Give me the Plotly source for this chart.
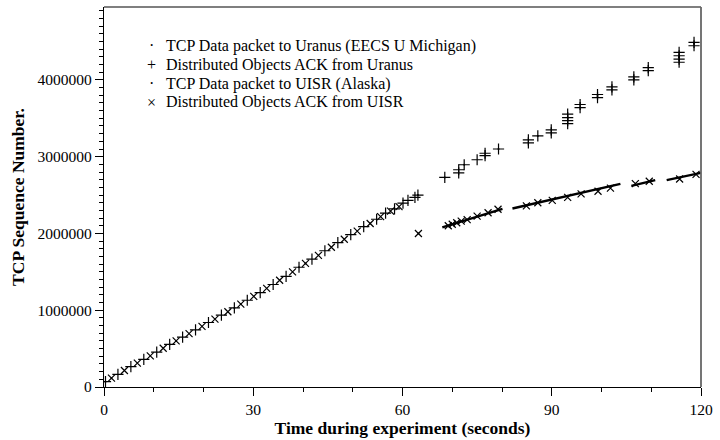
import plotly.graph_objects as go

# ---- ACKs from Uranus (EECS U Michigan) ----
uranus_ack_t = [0.3, 2.8, 5.4, 8.0, 10.6, 13.2, 15.8, 18.4, 21.0, 23.6, 26.2, 28.8,
                31.4, 34.0, 36.6, 39.2, 41.8, 44.4, 47.0, 49.6, 52.2, 54.8, 56.6,
                58.4, 60.1, 61.1, 62.5, 63.1,
                68.5, 71.3, 71.3, 72.4, 75.0, 76.6, 76.6, 79.3,
                85.3, 85.3, 87.2, 89.9, 89.9, 93.2, 93.2, 93.2, 93.2,
                95.7, 95.7, 99.2, 99.2, 102.1, 102.1, 106.5, 106.5,
                109.4, 109.4, 115.6, 115.6, 115.6, 115.6, 118.6, 118.6]
uranus_ack_seq = [70000, 165000, 265000, 360000, 455000, 555000, 650000, 745000,
                  840000, 935000, 1030000, 1130000, 1230000, 1335000, 1440000,
                  1560000, 1665000, 1775000, 1880000, 1985000, 2090000, 2185000,
                  2265000, 2320000, 2395000, 2430000, 2470000, 2500000,
                  2730000, 2790000, 2830000, 2895000, 2960000, 3015000, 3045000, 3100000,
                  3180000, 3220000, 3270000, 3310000, 3350000, 3430000, 3470000,
                  3510000, 3555000, 3640000, 3680000, 3770000, 3810000, 3870000,
                  3910000, 4000000, 4040000, 4120000, 4160000, 4230000, 4270000,
                  4315000, 4360000, 4445000, 4490000]

# ---- ACKs from UISR (Alaska) ----
uisr_ack_t = [1.5, 4.1, 6.7, 9.3, 11.9, 14.5, 17.1, 19.7, 22.3, 24.9, 27.5, 30.1,
              32.7, 35.3, 37.9, 40.5, 43.1, 45.7, 48.3, 50.9, 53.5, 55.6, 57.6,
              59.3, 63.2,
              69.2, 70.0, 70.9, 71.8, 73.0, 75.0, 77.2, 79.2,
              84.9, 87.2, 90.1, 93.2, 95.9, 99.3, 101.8,
              106.8, 109.6, 115.7, 119.0]
uisr_ack_seq = [115000, 215000, 310000, 405000, 505000, 600000, 695000, 790000,
                885000, 980000, 1080000, 1180000, 1285000, 1390000, 1500000,
                1610000, 1715000, 1820000, 1925000, 2030000, 2130000, 2220000,
                2290000, 2350000, 2000000,
                2100000, 2120000, 2140000, 2160000, 2180000, 2225000, 2270000, 2315000,
                2360000, 2400000, 2430000, 2470000, 2515000, 2550000, 2590000,
                2650000, 2680000, 2710000, 2770000]

# ---- Data packets to Uranus ----
uranus_data_t = [0.3, 13.2, 26.2, 39.2, 52.2, 63.1, 68.5, 72.4, 79.3, 87.2,
                 93.2, 99.2, 106.5, 115.6, 118.6]
uranus_data_seq = [70000, 555000, 1030000, 1560000, 2090000, 2500000, 2730000,
                   2895000, 3100000, 3270000, 3510000, 3790000, 4020000,
                   4300000, 4470000]

# ---- Data packets to UISR ----
# isolated packets during the shared phase
uisr_pkt_t = [1.5, 14.5, 27.5, 40.5, 53.5, 63.2]
uisr_pkt_seq = [115000, 600000, 1080000, 1610000, 2130000, 2000000]
# dense bursts afterwards: start/end of each run, None splits runs
uisr_burst_t = [68.0, 80.1, None, 82.1, 103.8, None,
                106.0, 110.8, None, 113.1, 120.0]
uisr_burst_seq = [2080000, 2320000, None, 2325000, 2645000, None,
                  2620000, 2695000, None, 2695000, 2790000]

x_ticks = [0, 30, 60, 90, 120]
y_ticks = [0, 1000000, 2000000, 3000000, 4000000]

legend_glyphs = ["·", "+", "·", "×"]
legend_labels = ["TCP Data packet to Uranus (EECS U Michigan)",
                 "Distributed Objects ACK from Uranus",
                 "TCP Data packet to UISR (Alaska)",
                 "Distributed Objects ACK from UISR"]

FONT = "Liberation Serif"
INK = "black"

fig = go.Figure()

# bursts of data packets to UISR are packed so tight they read as a thick run
fig.add_trace(go.Scatter(
    x=uisr_burst_t, y=uisr_burst_seq, mode="lines",
    line=dict(color=INK, width=2.4), hoverinfo="skip",
    name=legend_labels[2]))

fig.add_trace(go.Scatter(
    x=uisr_pkt_t, y=uisr_pkt_seq, mode="markers", name=legend_labels[2],
    marker=dict(symbol="circle", size=2, color=INK, line=dict(width=0))))

fig.add_trace(go.Scatter(
    x=uranus_data_t, y=uranus_data_seq, mode="markers", name=legend_labels[0],
    marker=dict(symbol="circle", size=2, color=INK, line=dict(width=0))))

fig.add_trace(go.Scatter(
    x=uranus_ack_t, y=uranus_ack_seq, mode="markers", name=legend_labels[1],
    marker=dict(symbol="cross-thin", size=8, color=INK,
                line=dict(color=INK, width=1.2))))

fig.add_trace(go.Scatter(
    x=uisr_ack_t, y=uisr_ack_seq, mode="markers", name=legend_labels[3],
    marker=dict(symbol="x-thin", size=7, color=INK,
                line=dict(color=INK, width=1.2))))

# key: glyph plus label per row, top-left inside the frame
row_y = [0.8976, 0.8478, 0.7979, 0.7493]
for glyph, label, yy in zip(legend_glyphs, legend_labels, row_y):
    fig.add_annotation(xref="paper", yref="paper", x=0.0795, y=yy,
                       text=glyph, showarrow=False, xanchor="center", yanchor="middle",
                       font=dict(family=FONT, size=16, color=INK))
    fig.add_annotation(xref="paper", yref="paper", x=0.101, y=yy,
                       text=label, showarrow=False, xanchor="left", yanchor="middle",
                       font=dict(family=FONT, size=16, color=INK))

# top and right frame edges
fig.add_shape(type="line", xref="paper", yref="paper", x0=0, x1=1, y0=1, y1=1,
              line=dict(color=INK, width=1.2))
fig.add_shape(type="line", xref="paper", yref="paper", x0=1, x1=1, y0=0, y1=1,
              line=dict(color="#666666", width=1.8))

fig.update_layout(
    width=720, height=440,
    margin=dict(l=104, r=12, t=7, b=52),
    paper_bgcolor="white", plot_bgcolor="white",
    font=dict(family=FONT, size=15, color=INK),
    showlegend=False,
)

fig.update_xaxes(
    range=[0, 120], tickvals=x_ticks, ticktext=[str(v) for v in x_ticks],
    showgrid=False, zeroline=False, showline=True, linecolor=INK, linewidth=1.3,
    ticks="outside", ticklen=8, tickwidth=1.3, tickcolor=INK,
    tickfont=dict(family=FONT, size=15.5),
    minor=dict(dtick=10, tick0=0, ticks="outside", ticklen=4, tickwidth=1.2,
               tickcolor=INK, showgrid=False),
    title=dict(text="<b>Time during experiment (seconds)</b>",
               font=dict(family=FONT, size=17.5), standoff=3),
)

fig.update_yaxes(
    range=[0, 4950000], tickvals=y_ticks, ticktext=[str(v) for v in y_ticks],
    showgrid=False, zeroline=False, showline=True, linecolor=INK, linewidth=1.3,
    ticks="outside", ticklen=8, tickwidth=1.3, tickcolor=INK,
    tickfont=dict(family=FONT, size=15.5),
    minor=dict(dtick=100000, tick0=0, ticks="outside", ticklen=4, tickwidth=1.2,
               tickcolor=INK, showgrid=False),
    title=dict(text="<b>TCP Sequence Number.</b>",
               font=dict(family=FONT, size=17.5), standoff=8),
)

fig.write_html("out.html")
